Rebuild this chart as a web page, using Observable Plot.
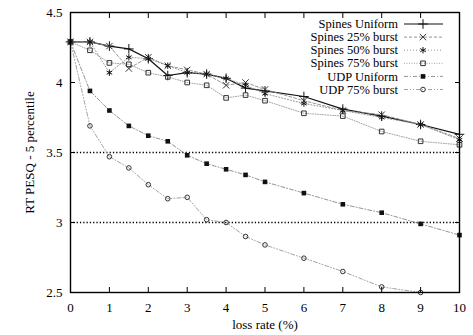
<!DOCTYPE html>
<html>
<head>
<meta charset="utf-8">
<script src="https://cdn.jsdelivr.net/npm/d3@7"></script>
<script src="https://cdn.jsdelivr.net/npm/@observablehq/plot@0.6"></script>
<style>
  html, body { margin: 0; padding: 0; background: #fff; }
  #chart { position: relative; width: 473px; height: 335px; }
</style>
</head>
<body>
<div id="chart"></div>
<script>
// ---- data ----
const lossRates = [0, 0.5, 1, 1.5, 2, 2.5, 3, 3.5, 4, 4.5, 5, 6, 7, 8, 9, 10];
const spinesUniform = [4.29, 4.29, 4.26, 4.24, 4.17, 4.05, 4.07, 4.06, 4.03, 3.96, 3.94, 3.90, 3.81, 3.76, 3.70, 3.63];
const spines25 = [4.29, 4.29, 4.26, 4.10, 4.18, 4.12, 4.09, 4.06, 3.98, 4.00, 3.95, 3.87, 3.80, 3.77, 3.70, 3.60];
const spines50 = [4.29, 4.29, 4.07, 4.18, 4.17, 4.12, 4.07, 4.06, 4.03, 3.98, 3.92, 3.85, 3.80, 3.75, 3.70, 3.59];
const spines75 = [4.29, 4.23, 4.14, 4.13, 4.07, 4.04, 4.00, 3.98, 3.89, 3.91, 3.87, 3.78, 3.76, 3.65, 3.58, 3.555];
const udpUniform = [4.29, 3.94, 3.80, 3.69, 3.62, 3.58, 3.48, 3.42, 3.38, 3.34, 3.29, 3.21, 3.13, 3.07, 2.99, 2.91];
const udp75 = [4.29, 3.69, 3.47, 3.39, 3.27, 3.17, 3.18, 3.02, 3.00, 2.90, 2.84, 2.745, 2.65, 2.54, 2.50];
const seriesNames = ["Spines Uniform", "Spines 25% burst", "Spines 50% burst", "Spines 75% burst", "UDP Uniform", "UDP 75% burst"];
const xTicks = [0, 1, 2, 3, 4, 5, 6, 7, 8, 9, 10];
const yTicks = [2.5, 3, 3.5, 4, 4.5];
const yTickLabels = ["2.5", "3", "3.5", "4", "4.5"];
const refLines = [3.5, 3.0];

// ---- styles ----
const seriesValues = [spinesUniform, spines25, spines50, spines75, udpUniform, udp75];
const styles = [
  {stroke: "#111", dash: null, width: 1.2, symbol: "plus", fill: "none", mstroke: "#111", r: 3.2},
  {stroke: "#888", dash: "3,2", width: 0.9, symbol: "times", fill: "none", mstroke: "#333", r: 3},
  {stroke: "#888", dash: "1,2", width: 0.9, symbol: "asterisk", fill: "none", mstroke: "#111", r: 3},
  {stroke: "#999", dash: "1,1.5", width: 0.9, symbol: "square", fill: "none", mstroke: "#333", r: 2.6},
  {stroke: "#888", dash: "4,2,1,2", width: 0.9, symbol: "square", fill: "#111", mstroke: "none", r: 2.6},
  {stroke: "#999", dash: "4,2,1,2,1,2", width: 0.9, symbol: "circle", fill: "none", mstroke: "#333", r: 2.3}
];
const d3Symbols = {plus: d3.symbolPlus, times: d3.symbolTimes, asterisk: d3.symbolAsterisk, square: d3.symbolSquare, circle: d3.symbolCircle};

const marks = [];
marks.push(Plot.ruleY(refLines, {stroke: "#000", strokeWidth: 1.3, strokeDasharray: "1.3,2"}));
seriesNames.forEach((name, i) => {
  const vals = seriesValues[i];
  const rows = vals.map((v, j) => ({x: lossRates[j], y: v, s: name}));
  const st = styles[i];
  marks.push(Plot.line(rows, {x: "x", y: "y", stroke: st.stroke, strokeWidth: st.width, strokeDasharray: st.dash}));
  marks.push(Plot.dot(rows, {x: "x", y: "y", symbol: () => st.symbol, r: st.r, fill: st.fill, stroke: st.mstroke, strokeWidth: 1}));
});
// axes: labels
marks.push(Plot.axisX(xTicks, {anchor: "bottom", tickSize: 0, tickPadding: 10, tickFormat: d => String(d), label: "loss rate (%)", labelAnchor: "center", labelOffset: 36, labelArrow: "none"}));
marks.push(Plot.axisY(yTicks, {anchor: "left", tickSize: 0, tickPadding: 8, tickFormat: (d, i) => yTickLabels[i], label: "RT PESQ - 5 percentile", labelAnchor: "center", labelOffset: 46, labelArrow: "none"}));
// inward ticks on all four sides
marks.push(Plot.axisX(xTicks, {anchor: "bottom", tickSize: -5, tickFormat: () => "", label: null}));
marks.push(Plot.axisX(xTicks, {anchor: "top", tickSize: -5, tickFormat: () => "", label: null}));
marks.push(Plot.axisY(yTicks, {anchor: "left", tickSize: -5, tickFormat: () => "", label: null}));
marks.push(Plot.axisY(yTicks, {anchor: "right", tickSize: -5, tickFormat: () => "", label: null}));
marks.push(Plot.frame({stroke: "#000", strokeWidth: 1.4}));

const svg = Plot.plot({
  width: 473,
  height: 335,
  marginLeft: 70,
  marginRight: 14,
  marginTop: 12,
  marginBottom: 43,
  x: {domain: [0, 10]},
  y: {domain: [2.5, 4.5]},
  style: {fontFamily: "'Liberation Serif', 'DejaVu Serif', serif", fontSize: "13px", color: "#000", background: "#fff"},
  marks
});
document.getElementById("chart").appendChild(svg);

// ---- legend (inside top-right) ----
const g = d3.select(svg).append("g").attr("font-family", "'Liberation Serif', serif").attr("font-size", 12.5);
seriesNames.forEach((name, i) => {
  const st = styles[i];
  const cy = 24 + i * 13.1;
  g.append("text").attr("x", 398).attr("y", cy).attr("dy", "0.33em").attr("text-anchor", "end").attr("fill", "#000").text(name);
  g.append("line").attr("x1", 404).attr("x2", 443).attr("y1", cy).attr("y2", cy)
    .attr("stroke", st.stroke).attr("stroke-width", st.width).attr("stroke-dasharray", st.dash);
  const sym = d3.symbol(d3Symbols[st.symbol], Math.PI * st.r * st.r);
  g.append("path").attr("d", sym()).attr("transform", `translate(423,${cy})`)
    .attr("fill", st.fill).attr("stroke", st.mstroke).attr("stroke-width", 1);
});
</script>
</body>
</html>
